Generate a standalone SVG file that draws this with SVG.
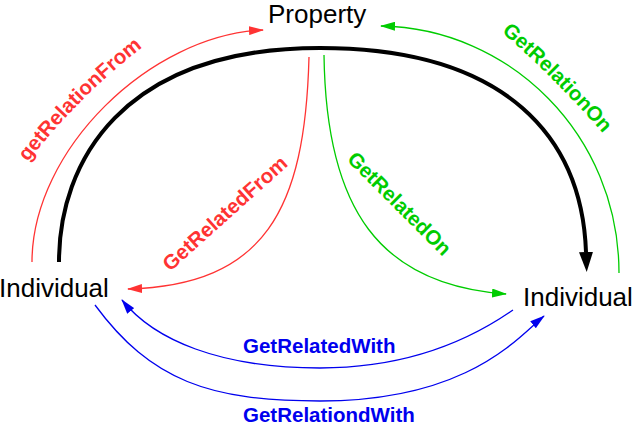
<svg xmlns="http://www.w3.org/2000/svg" width="633" height="427" viewBox="0 0 633 427">
<style>
.node{font-family:"Liberation Sans",Arial,sans-serif;font-size:26px;fill:#000}
.lbl{font-family:"Liberation Sans",Arial,sans-serif;font-size:20.5px;font-weight:bold}
.c{fill:none;stroke-width:1.3}
.red{stroke:#ff3333}.green{stroke:#00cc00}.blue{stroke:#0000ee}
.tred{fill:#ff3333}.tgreen{fill:#00cc00}.tblue{fill:#0000ee}
</style>
<defs>
<marker id="ahBlack" markerUnits="userSpaceOnUse" markerWidth="20" markerHeight="14" refX="0" refY="7" orient="auto"><path d="M0,0 L20,7 L0,14 z" fill="#000"/></marker>
<marker id="ahRed" markerUnits="userSpaceOnUse" markerWidth="15" markerHeight="9" refX="14" refY="4.5" orient="auto"><path d="M0,0 L15,4.5 L0,9 z" fill="#ff3333"/></marker>
<marker id="ahGreen" markerUnits="userSpaceOnUse" markerWidth="15" markerHeight="9" refX="14" refY="4.5" orient="auto"><path d="M0,0 L15,4.5 L0,9 z" fill="#00cc00"/></marker>
<marker id="ahBlue" markerUnits="userSpaceOnUse" markerWidth="15" markerHeight="9" refX="14" refY="4.5" orient="auto"><path d="M0,0 L15,4.5 L0,9 z" fill="#0000ee"/></marker>
<path id="tpRelationFrom" d="M19.5,173 Q76.5,96 153.5,39"/>
<path id="tpRelatedFrom" d="M159,282 L300,155"/>
<path id="tpRelatedOn" d="M330,144 L459,273"/>
<path id="tpRelationOn" d="M487.6,20.2 Q556.8,78.2 614.8,147.4"/>
</defs>
<rect width="633" height="427" fill="#fff"/>
<g id="property"><text class="node" x="268" y="23" font-size="25">Property</text></g>
<g id="individual-left"><text class="node" x="-1" y="297">Individual</text></g>
<g id="individual-right"><text class="node" x="523" y="306">Individual</text></g>
<g id="connectors">
<path d="M59,262 C59,163 121,48 320,48 C509,48 582,140 586,252" fill="none" stroke="#000" stroke-width="4" marker-end="url(#ahBlack)"/>
<path class="c red" d="M32,262 C32,150 150,35 263,30" marker-end="url(#ahRed)"/>
<path class="c red" d="M309,57 C305,210 265,285 128,289" marker-end="url(#ahRed)"/>
<path class="c green" d="M324,55 C326,210 380,285 506,294" marker-end="url(#ahGreen)"/>
<path class="c green" d="M619,273 C619,135 510,28 381,26" marker-end="url(#ahGreen)"/>
<path class="c blue" d="M513,310 C463.5,344.5 400,368 320,368 C220,368 154,340 122,300" marker-end="url(#ahBlue)"/>
<path class="c blue" d="M95,305 C151,381 210,401 320,401 C470,401 520,335 544,316" marker-end="url(#ahBlue)"/>
</g>
<g id="labels">
<text class="lbl tred"><textPath href="#tpRelationFrom" startOffset="50%" text-anchor="middle">getRelationFrom</textPath></text>
<text class="lbl tred"><textPath href="#tpRelatedFrom" startOffset="50%" text-anchor="middle">GetRelatedFrom</textPath></text>
<text class="lbl tgreen"><textPath href="#tpRelatedOn" startOffset="50%" text-anchor="middle">GetRelatedOn</textPath></text>
<text class="lbl tgreen"><textPath href="#tpRelationOn" startOffset="50%" text-anchor="middle">GetRelationOn</textPath></text>
<text class="lbl tblue" x="243" y="353">GetRelatedWith</text>
<text class="lbl tblue" x="243" y="422">GetRelationdWith</text>
</g>
</svg>
